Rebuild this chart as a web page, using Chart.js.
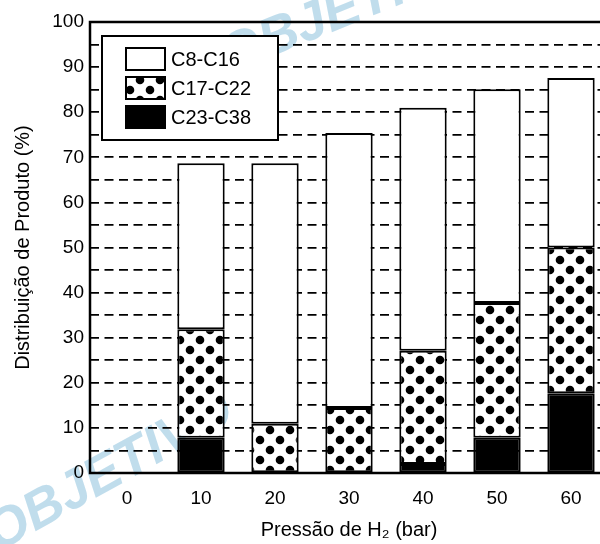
<!DOCTYPE html>
<html>
<head>
<meta charset="utf-8">
<script src="https://cdn.jsdelivr.net/npm/chart.js@4/dist/chart.umd.min.js"></script>
<style>
  html, body { margin: 0; padding: 0; background: #fff; overflow: hidden; }
  #wrap { width: 600px; height: 544px; overflow: hidden; position: relative; }
  canvas { display: block; }
</style>
</head>
<body>
<div id="wrap"><canvas id="c" width="612" height="544" style="width:612px;height:544px"></canvas></div>
<script>
// ---- data ----
const categories = ['0', '10', '20', '30', '40', '50', '60'];
const c23_c38 = [null, 7.8, null, null, 2.0, 7.8, 17.7];
const c17_c22 = [null, 24.1, 10.9, 14.4, 25.1, 29.9, 32.3];
const c8_c16  = [null, 36.8, 57.8, 61.0, 53.9, 47.4, 37.6];
const seriesNames = ['C8-C16', 'C17-C22', 'C23-C38'];
const yTicks = [0, 10, 20, 30, 40, 50, 60, 70, 80, 90, 100];
const xTitle = 'Pressão de H\u2082 (bar)';
const yTitle = 'Distribuição de Produto (%)';

const FONT = '"Liberation Sans", Arial, Helvetica, sans-serif';

// dot pattern
function makeDots() {
  const t = document.createElement('canvas');
  t.width = 20; t.height = 20;
  const g = t.getContext('2d');
  g.fillStyle = '#fff'; g.fillRect(0, 0, 20, 20);
  g.fillStyle = '#000';
  [[0,0],[20,0],[0,20],[20,20],[10,10]].forEach(([x,y]) => {
    g.beginPath(); g.arc(x, y, 4.3, 0, Math.PI * 2); g.fill();
  });
  return g.createPattern(t, 'repeat');
}
const dots = makeDots();
const fills = { 'C8-C16': '#ffffff', 'C17-C22': dots, 'C23-C38': '#000000' };

const watermark = {
  id: 'watermark',
  beforeDraw(chart) {
    const ctx = chart.ctx;
    ctx.save();
    ctx.fillStyle = 'rgba(150,198,224,0.6)';
    ctx.font = 'italic bold 54px ' + FONT;
    ctx.textBaseline = 'alphabetic';
    ctx.save();
    ctx.translate(-2, 552);
    ctx.rotate(-29 * Math.PI / 180);
    ctx.fillText('OBJETIVO', 0, 0);
    ctx.restore();
    ctx.save();
    ctx.translate(228, 74);
    ctx.rotate(-22 * Math.PI / 180);
    ctx.fillText('OBJETIVO', 0, 0);
    ctx.restore();
    ctx.restore();
  }
};

const frame = {
  id: 'frame',
  afterDatasetsDraw(chart) {
    const { ctx, chartArea: a } = chart;
    ctx.save();
    ctx.strokeStyle = '#000';
    ctx.lineWidth = 2.5;
    ctx.setLineDash([]);
    ctx.beginPath();
    ctx.moveTo(a.right, a.top); ctx.lineTo(a.left, a.top);
    ctx.lineTo(a.left, a.bottom); ctx.lineTo(a.right, a.bottom);
    ctx.stroke();
    ctx.restore();
  },
  afterDraw(chart) {
    const ctx = chart.ctx;
    ctx.save();
    // legend box
    ctx.fillStyle = '#fff';
    ctx.fillRect(101, 35, 178, 106);
    ctx.strokeStyle = '#000';
    ctx.lineWidth = 2;
    ctx.strokeRect(102, 36, 176, 104);
    const rows = [48, 77, 106];
    seriesNames.forEach((n, i) => {
      const y = rows[i];
      ctx.fillStyle = fills[n];
      ctx.fillRect(126, y, 39, 22);
      ctx.lineWidth = 2;
      ctx.strokeStyle = '#000';
      ctx.strokeRect(126, y, 39, 22);
      ctx.fillStyle = '#000';
      ctx.font = '20px ' + FONT;
      ctx.textBaseline = 'middle';
      ctx.textAlign = 'left';
      ctx.fillText(n, 171, y + 12);
    });
    ctx.restore();
  }
};

const datasets = [
  { label: 'C23-C38', data: c23_c38, backgroundColor: fills['C23-C38'] },
  { label: 'C17-C22', data: c17_c22, backgroundColor: fills['C17-C22'] },
  { label: 'C8-C16',  data: c8_c16,  backgroundColor: fills['C8-C16'] }
].map(d => Object.assign(d, {
  borderColor: '#000', borderWidth: 2, borderSkipped: false,
  categoryPercentage: 1, barPercentage: 0.64
}));

new Chart(document.getElementById('c'), {
  type: 'bar',
  data: { labels: categories, datasets },
  plugins: [watermark, frame],
  options: {
    responsive: false,
    animation: false,
    devicePixelRatio: 1,
    layout: { padding: { top: 22, right: 4, left: 0, bottom: 0 } },
    plugins: { legend: { display: false }, tooltip: { enabled: false } },
    scales: {
      x: {
        stacked: true,
        offset: true,
        grid: { display: false, drawTicks: false },
        border: { display: false },
        ticks: { color: '#000', font: { family: FONT, size: 19 }, padding: 14, maxRotation: 0 },
        title: { display: true, text: xTitle, color: '#000', font: { family: FONT, size: 20 }, padding: { top: 0, bottom: 2 } },
        afterFit(s) { s.height = 71; }
      },
      y: {
        stacked: true,
        min: 0, max: 100,
        afterBuildTicks(s) {
          const t = [];
          for (let v = 0; v <= 100; v += 5) t.push({ value: v });
          s.ticks = t;
        },
        grid: {
          drawTicks: false,
          lineWidth: 1.7,
          color: c => (c.tick && (c.tick.value === 0 || c.tick.value === 100)) ? 'rgba(0,0,0,0)' : '#000'
        },
        border: { display: false, dash: [9, 5.5] },
        ticks: {
          autoSkip: false,
          color: '#000', font: { family: FONT, size: 19 }, padding: 6,
          callback: v => yTicks.includes(v) ? String(v) : ''
        },
        title: { display: true, text: yTitle, color: '#000', font: { family: FONT, size: 20 }, padding: { top: 11, bottom: 0 } },
        afterFit(s) { s.width = 90; }
      }
    }
  }
});
</script>
</body>
</html>
